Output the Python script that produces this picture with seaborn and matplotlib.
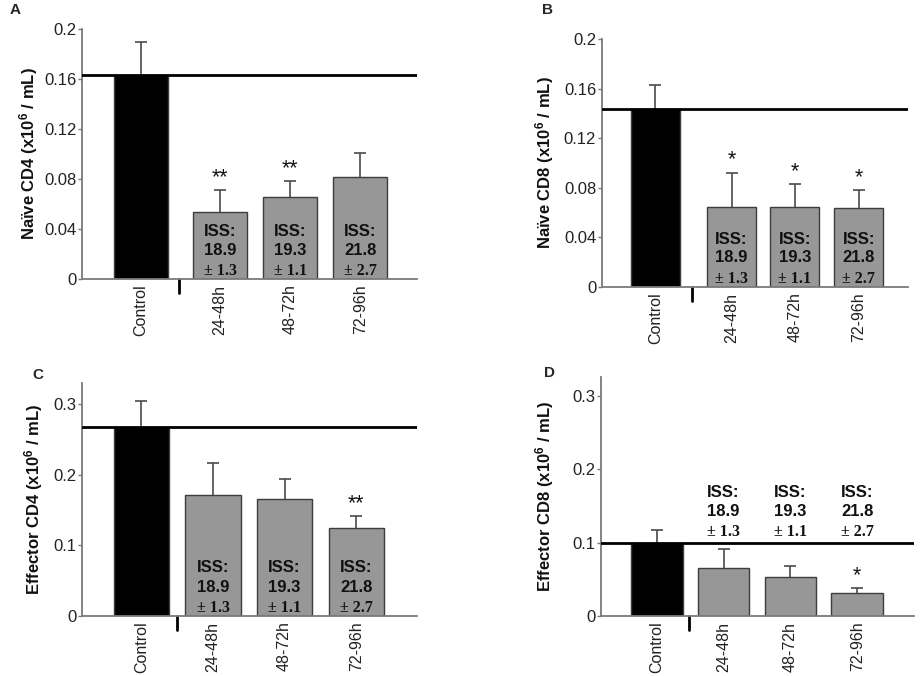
import matplotlib
matplotlib.use("Agg")
import matplotlib.pyplot as plt
import matplotlib.transforms as mtransforms
import seaborn as sns
import pandas as pd

# ---------------- data ----------------
groups = ["Control", "24-48h", "48-72h", "72-96h"]
iss_values = ["18.9", "19.3", "21.8"]
iss_sd = ["± 1.3", "± 1.1", "± 2.7"]

naive_cd4_mean = [0.163, 0.0536, 0.0656, 0.0816]
naive_cd4_sem = [0.0265, 0.0176, 0.0128, 0.0192]
naive_cd4_stars = ["", "**", "**", ""]

naive_cd8_mean = [0.1435, 0.0648, 0.0648, 0.0634]
naive_cd8_sem = [0.0195, 0.0274, 0.018, 0.0146]
naive_cd8_stars = ["", "*", "*", "*"]

eff_cd4_mean = [0.267, 0.1705, 0.165, 0.1247]
eff_cd4_sem = [0.037, 0.0465, 0.029, 0.0163]
eff_cd4_stars = ["", "", "", "**"]

eff_cd8_mean = [0.100, 0.0657, 0.0539, 0.0313]
eff_cd8_sem = [0.0174, 0.0263, 0.0145, 0.0072]
eff_cd8_stars = ["", "", "", "*"]

yticks_naive = [0, 0.04, 0.08, 0.12, 0.16, 0.2]
yticklabels_naive = ["0", "0.04", "0.08", "0.12", "0.16", "0.2"]
yticks_eff = [0, 0.1, 0.2, 0.3]
yticklabels_eff = ["0", "0.1", "0.2", "0.3"]

# ---------------- layout ----------------
W, H = 924, 676
panels = [
    dict(letter="A", mean=naive_cd4_mean, sem=naive_cd4_sem, stars=naive_cd4_stars,
         ylabel="Naïve CD4 (x10$^{6}$ / mL)", yticks=yticks_naive, ytl=yticklabels_naive,
         box=(82, 29, 417, 279), ylim=0.2, pos=[0, 1.13, 2.13, 3.13], xlim=(-0.84, 3.94),
         sep=0.54, iss_base=0, letter_xy=(10, 10), ylabel_x=29),
    dict(letter="B", mean=naive_cd8_mean, sem=naive_cd8_sem, stars=naive_cd8_stars,
         ylabel="Naïve CD8 (x10$^{6}$ / mL)", yticks=yticks_naive, ytl=yticklabels_naive,
         box=(601.7, 39, 908, 287), ylim=0.2, pos=[0, 1.19, 2.18, 3.18], xlim=(-0.84, 3.95),
         sep=0.57, iss_base=0, letter_xy=(542, 10), ylabel_x=545),
    dict(letter="C", mean=eff_cd4_mean, sem=eff_cd4_sem, stars=eff_cd4_stars,
         ylabel="Effector CD4 (x10$^{6}$ / mL)", yticks=yticks_eff, ytl=yticklabels_eff,
         box=(82, 382.7, 417, 616), ylim=0.33, pos=[0, 1, 2, 3], xlim=(-0.83, 3.85),
         sep=0.5, iss_base=0, letter_xy=(32, 375), ylabel_x=34),
    dict(letter="D", mean=eff_cd8_mean, sem=eff_cd8_sem, stars=eff_cd8_stars,
         ylabel="Effector CD8 (x10$^{6}$ / mL)", yticks=yticks_eff, ytl=yticklabels_eff,
         box=(600.7, 376.7, 914, 616.3), ylim=0.326, pos=[0, 1, 2, 3], xlim=(-0.84, 3.85),
         sep=0.48, iss_base=76, letter_xy=(544, 373), ylabel_x=545),
]

sns.set_theme(style="white")
plt.rcParams["font.family"] = ["Liberation Sans", "DejaVu Sans"]
plt.rcParams["mathtext.fontset"] = "custom"
plt.rcParams["mathtext.rm"] = "Liberation Sans:bold"
plt.rcParams["mathtext.it"] = "Liberation Sans:bold"
plt.rcParams["mathtext.bf"] = "Liberation Sans:bold"

fig = plt.figure(figsize=(W / 100, H / 100), dpi=100)
fig.patch.set_facecolor("white")

spine_col = "#7a7a7a"
bar_gray = "#979797"
edge_col = "#3c3c3c"
err_col = "#4a4a4a"

for p in panels:
    l, t, r, b = p["box"]
    ax = fig.add_axes([l / W, 1 - b / H, (r - l) / W, (b - t) / H])
    df = pd.DataFrame({"pos": p["pos"], "value": p["mean"], "group": groups})
    palette = {g: ("black" if g == "Control" else bar_gray) for g in groups}
    sns.barplot(data=df, x="pos", y="value", hue="group", palette=palette,
                native_scale=True, dodge=False, width=0.77, legend=False,
                edgecolor=edge_col, linewidth=1.0, saturation=1, ax=ax, errorbar=None)
    # upper-only error bars (stem + top cap)
    tops = [m + s for m, s in zip(p["mean"], p["sem"])]
    ax.vlines(p["pos"], p["mean"], tops, color=err_col, lw=1.2, zorder=3)
    ax.plot(p["pos"], tops, ls="none", marker="_", ms=8, mew=1.2, color=err_col, zorder=3)
    # reference line at control mean
    ax.axhline(p["mean"][0], color="black", lw=2, zorder=4)

    ax.set_xlim(*p["xlim"])
    ax.set_ylim(0, p["ylim"])
    ax.set_yticks(p["yticks"])
    ax.set_yticklabels(p["ytl"], fontsize=12, color="#222222")
    ax.set_xticks(p["pos"])
    ax.set_xticklabels(groups, rotation=90, fontsize=11.5, color="#222222")
    ax.tick_params(axis="x", length=0, pad=4)
    ax.tick_params(axis="y", length=3, width=1, color=spine_col, pad=1, left=True)
    for s in ["top", "right"]:
        ax.spines[s].set_visible(False)
    for s in ["left", "bottom"]:
        ax.spines[s].set_color(spine_col)
        ax.spines[s].set_linewidth(1.3)
    ax.set_xlabel("")
    ax.set_ylabel("")

    # separator tick below axis
    trans = mtransforms.blended_transform_factory(ax.transData, ax.transAxes)
    sep_len = 14 / (b - t)
    ax.plot([p["sep"], p["sep"]], [0, -sep_len], color="black", lw=2,
            transform=trans, clip_on=False)

    # ISS annotations
    for i in range(3):
        x = p["pos"][i + 1]
        base = p["iss_base"]
        ax.annotate("ISS:", xy=(x, 0), xytext=(0, (base + 48) * 0.72),
                    textcoords="offset points", ha="center", va="center",
                    fontsize=12, fontweight="bold", color="#111111", zorder=5)
        ax.annotate(iss_values[i], xy=(x, 0), xytext=(0, (base + 29) * 0.72),
                    textcoords="offset points", ha="center", va="center",
                    fontsize=12, fontweight="bold", color="#111111", zorder=5)
        ax.annotate(iss_sd[i], xy=(x, 0), xytext=(0, (base + 8) * 0.72),
                    textcoords="offset points", ha="center", va="center",
                    fontsize=11.5, fontweight="bold", family="Liberation Serif",
                    color="#111111", zorder=5)

    # significance stars
    for i, st in enumerate(p["stars"]):
        if st:
            ax.annotate(st, xy=(p["pos"][i], tops[i]),
                        xytext=(0, 7 * 0.72), textcoords="offset points",
                        ha="center", va="baseline", fontsize=15.5, color="#111111")

    # y label
    yc = 1 - ((t + b) / 2) / H
    fig.text(p["ylabel_x"] / W, yc, p["ylabel"], rotation=90, ha="center", va="center",
             fontsize=12, fontweight="bold", color="#111111")
    # panel letter
    fig.text(p["letter_xy"][0] / W, 1 - p["letter_xy"][1] / H, p["letter"],
             ha="left", va="center", fontsize=11, fontweight="bold")

fig.savefig("out.png", dpi=100, facecolor="white")
